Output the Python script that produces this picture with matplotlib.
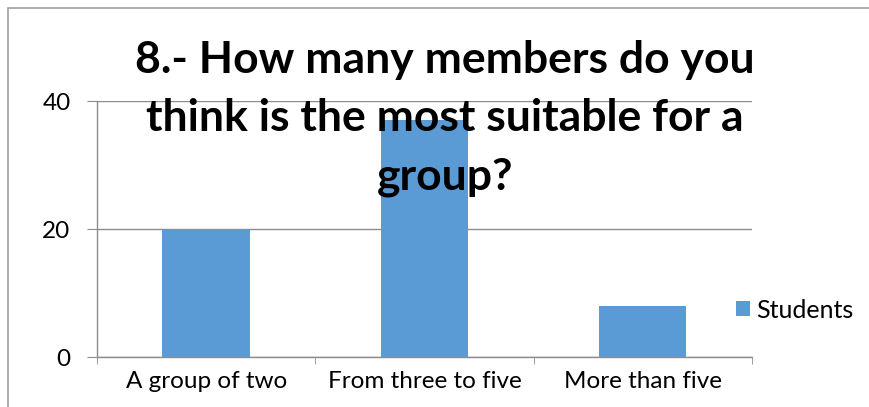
import matplotlib.pyplot as plt
from matplotlib.patches import Rectangle

# Survey answers, question 8
categories = ['A group of two', 'From three to five', 'More than five']
students = [20, 37, 8]
series_name = 'Students'
title = '8.- How many members do you\nthink is the most suitable for a\ngroup?'

plt.rcParams['font.family'] = ['Lato', 'DejaVu Sans']

fig = plt.figure(figsize=(8.69, 4.07), dpi=100)
W, H = 869, 407
ax = fig.add_axes([97 / W, 1 - 357 / H, (752 - 97) / W, (357 - 101) / H])

x = range(len(categories))
ax.bar(x, students, width=0.4, color='#5B9BD5', label=series_name, zorder=2)

ax.set_xlim(-0.5, len(categories) - 0.5)
ax.set_ylim(0, 40)
ax.set_yticks([0, 20, 40])
ax.set_xticks(list(x))
ax.set_xticklabels(categories)
ax.set_xticks([-0.5, 0.5, 1.5, 2.5], minor=True)

grey = '#8c8c8c'
ax.grid(axis='y', color=grey, linewidth=1, zorder=0)
for side in ['top', 'right']:
    ax.spines[side].set_visible(False)
for side in ['left', 'bottom']:
    ax.spines[side].set_color(grey)
    ax.spines[side].set_linewidth(1)
ax.tick_params(axis='y', length=7, color=grey, labelsize=17.5, pad=12)
ax.tick_params(axis='x', which='major', length=0, labelsize=17.5, pad=10)
ax.tick_params(axis='x', which='minor', length=5, color=grey)

leg = ax.legend(loc='center left', bbox_to_anchor=(736 / W, 1 - 310 / H),
                bbox_transform=fig.transFigure, frameon=False,
                fontsize=18, handlelength=0.56, handleheight=0.56,
                handletextpad=0.25, borderpad=0, borderaxespad=0)

fig.text(445 / W, 1 - 40 / H, title, ha='center', va='top', fontsize=32,
         fontweight='bold', linespacing=1.56, zorder=5)

# chart frame, clipped at the right and bottom edges
fig.patches.append(Rectangle((8 / W, -0.1), 1.2, 1.1 - 8 / H,
                             transform=fig.transFigure, fill=False,
                             edgecolor='#a0a0a0', linewidth=1.2))

plt.savefig('out.png', dpi=100)
